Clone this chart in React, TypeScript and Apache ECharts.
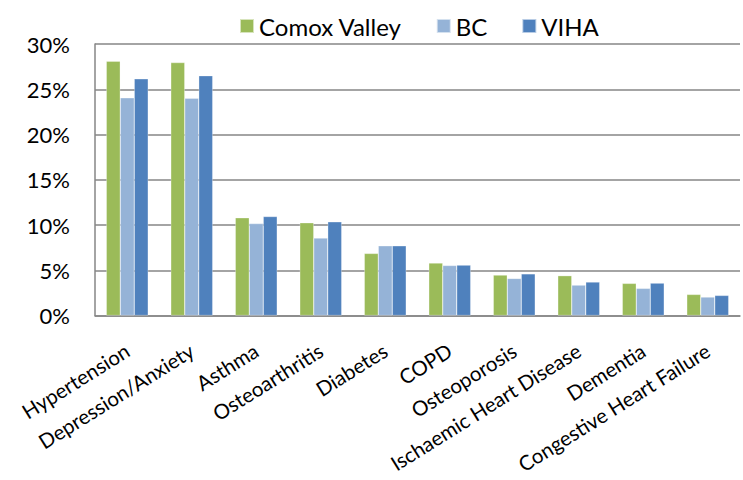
import React, { useEffect, useRef } from "react";
import * as echarts from "echarts";

const categories = [
  "Hypertension",
  "Depression/Anxiety",
  "Asthma",
  "Osteoarthritis",
  "Diabetes",
  "COPD",
  "Osteoporosis",
  "Ischaemic Heart Disease",
  "Dementia",
  "Congestive Heart Failure",
];
const comoxValley = [28.1, 27.95, 10.8, 10.25, 6.86, 5.8, 4.47, 4.4, 3.55, 2.33];
const bc = [24.05, 24.0, 10.16, 8.55, 7.7, 5.53, 4.1, 3.36, 3.0, 2.04];
const viha = [26.15, 26.5, 10.94, 10.35, 7.7, 5.57, 4.6, 3.7, 3.58, 2.22];
const seriesNames = ["Comox Valley", "BC", "VIHA"];
const colors = ["#9BBB59", "#95B3D7", "#4F81BD"];

const FONT = "Lato, 'Open Sans', sans-serif";

export default function App() {
  const ref = useRef<HTMLDivElement>(null);
  useEffect(() => {
    if (!ref.current) return;
    const chart = echarts.init(ref.current, null, { renderer: "svg" });
    const data = [comoxValley, bc, viha];
    chart.setOption({
      animation: false,
      backgroundColor: "#ffffff",
      legend: {
        top: 9,
        left: 234,
        itemWidth: 14,
        itemHeight: 14,
        itemGap: 34,
        icon: "rect",
        textStyle: { fontFamily: FONT, fontSize: 24, color: "#000" },
        data: seriesNames,
      },
      grid: { left: 95, right: 3, top: 44, bottom: 164.5 },
      xAxis: {
        type: "category",
        data: categories,
        axisLine: { show: true, lineStyle: { color: "#868686", width: 1.5 } },
        axisTick: { show: false },
        axisLabel: {
          interval: 0,
          rotate: 32,
          margin: 33,
          fontFamily: FONT,
          fontSize: 20.5,
          color: "#000",
        },
      },
      yAxis: {
        type: "value",
        min: 0,
        max: 30,
        interval: 5,
        axisLine: { show: true, lineStyle: { color: "#868686", width: 1.5 } },
        axisTick: { show: false },
        splitLine: { show: true, lineStyle: { color: "#868686", width: 1.5 } },
        axisLabel: {
          formatter: "{value}%",
          margin: 25,
          fontFamily: FONT,
          fontSize: 22,
          color: "#000",
        },
      },
      series: seriesNames.map((name, i) => ({
        name,
        type: "bar",
        data: data[i],
        barGap: "0%",
        barCategoryGap: "35%",
        itemStyle: {
          color: colors[i],
          borderColor: "rgba(255,255,255,0.6)",
          borderWidth: 0.5,
        },
      })),
    });
    return () => chart.dispose();
  }, []);
  return (
    <div
      ref={ref}
      style={{ width: 743, height: 480, position: "absolute", left: 0, top: 0 }}
    />
  );
}
